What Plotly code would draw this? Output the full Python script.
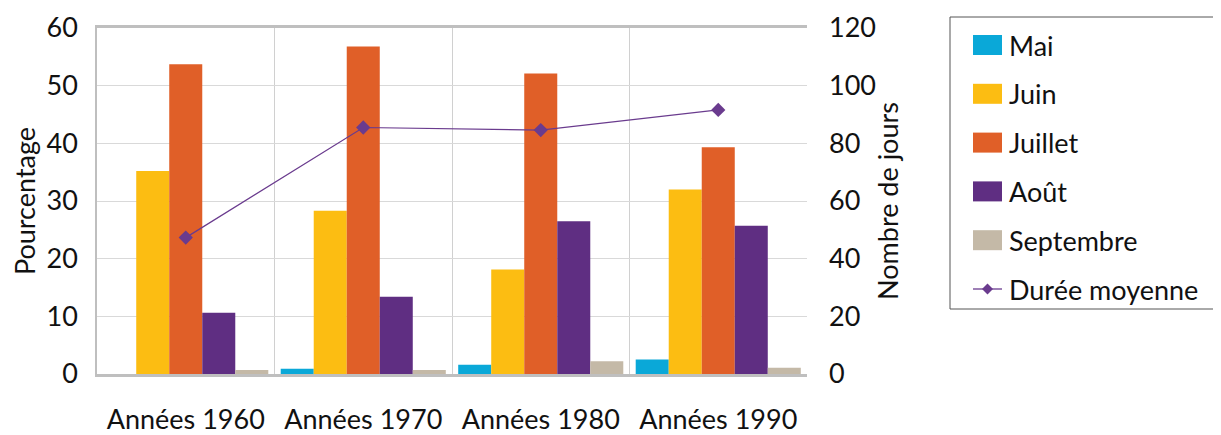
import plotly.graph_objects as go

# decades on the x axis
decades = ["Années 1960", "Années 1970", "Années 1980", "Années 1990"]

# percentage of departures by month (left axis)
mai = [0.0, 0.9, 1.6, 2.5]
juin = [35.2, 28.3, 18.1, 32.0]
juillet = [53.7, 56.8, 52.1, 39.3]
aout = [10.6, 13.4, 26.5, 25.7]
septembre = [0.7, 0.7, 2.2, 1.1]

# average stay length in days (right axis)
duree_moyenne = [47.3, 85.5, 84.6, 91.6]

months = ["Mai", "Juin", "Juillet", "Août", "Septembre"]
month_values = [mai, juin, juillet, aout, septembre]
colors = ["#0AA8D8", "#FCBD12", "#E05F28", "#5F2E82", "#C4B9A7"]
line_color = "#6A3B8E"

FONT = "Lato"
FS = 27

# the page body adds an 8px margin, so pixel positions are shifted back by that
OFF = 8
L, R, T, B = 97 - OFF, 807 - OFF, 28 - OFF, 374 - OFF

def px_x(p):
    return (p - OFF - L) / (R - L)

def px_y(p):
    return (B - (p - OFF)) / (B - T)

fig = go.Figure()

for i in range(len(months)):
    fig.add_trace(go.Bar(
        x=decades, y=month_values[i], name=months[i],
        marker=dict(color=colors[i], line=dict(width=0)),
    ))

fig.add_trace(go.Scatter(
    x=decades, y=duree_moyenne, name="Durée moyenne", yaxis="y2",
    mode="lines+markers",
    line=dict(color=line_color, width=1.2),
    marker=dict(symbol="diamond", size=11, color=line_color),
))

# legend drawn by hand, like the Excel box
shapes = [dict(type="rect", xref="paper", yref="paper",
               x0=px_x(950), x1=px_x(1240), y0=px_y(309), y1=px_y(17),
               line=dict(color="#555555", width=1), fillcolor="white")]
annotations = []
names = months + ["Durée moyenne"]
for i, name in enumerate(names):
    yc = 45 + i * 48.8
    if i < len(months):
        shapes.append(dict(type="rect", xref="paper", yref="paper",
                           x0=px_x(973), x1=px_x(1002),
                           y0=px_y(yc + 10), y1=px_y(yc - 10),
                           line=dict(width=0), fillcolor=colors[i]))
    else:
        shapes.append(dict(type="line", xref="paper", yref="paper",
                           x0=px_x(973), x1=px_x(1002), y0=px_y(yc), y1=px_y(yc),
                           line=dict(color=line_color, width=1.3)))
        d = 5.5
        shapes.append(dict(type="path", xref="paper", yref="paper",
                           path=f"M {px_x(987.5 - d)} {px_y(yc)} L {px_x(987.5)} {px_y(yc - d)} "
                                f"L {px_x(987.5 + d)} {px_y(yc)} L {px_x(987.5)} {px_y(yc + d)} Z",
                           line=dict(width=0), fillcolor=line_color))
    annotations.append(dict(text=name, xref="paper", yref="paper",
                            x=px_x(1007), y=px_y(yc), xanchor="left", yanchor="middle",
                            showarrow=False, font=dict(family=FONT, size=FS, color="#111111")))

fig.update_layout(
    width=1221, height=435,
    margin=dict(l=L, r=1221 - R, t=T, b=435 - B, autoexpand=False),
    paper_bgcolor="white", plot_bgcolor="white",
    font=dict(family=FONT, size=FS, color="#111111"),
    barmode="group", bargap=0.07, bargroupgap=0,
    showlegend=False,
    shapes=shapes, annotations=annotations,
    xaxis=dict(
        type="category", tickson="boundaries",
        showgrid=True, gridcolor="#D0D0D0", gridwidth=1,
        showline=True, linecolor="#BFBFBF", linewidth=3, mirror=True,
        ticks="", tickfont=dict(size=FS),
        ticklabelstandoff=20,
    ),
    yaxis=dict(
        range=[0, 60], dtick=10,
        showgrid=True, gridcolor="#D9D9D9", gridwidth=1,
        showline=True, linecolor="#BFBFBF", linewidth=1.5,
        ticks="", tickfont=dict(size=FS), zeroline=False,
        ticklabelstandoff=12,
        title=dict(text="Pourcentage", font=dict(size=FS), standoff=12),
    ),
    yaxis2=dict(
        range=[0, 120], dtick=20, overlaying="y", side="right",
        showgrid=False, showline=False, zeroline=False,
        ticks="", tickfont=dict(size=FS),
        ticklabelstandoff=21,
        title=dict(text="Nombre de jours", font=dict(size=FS), standoff=4),
    ),
)

fig.write_html("out.html")
